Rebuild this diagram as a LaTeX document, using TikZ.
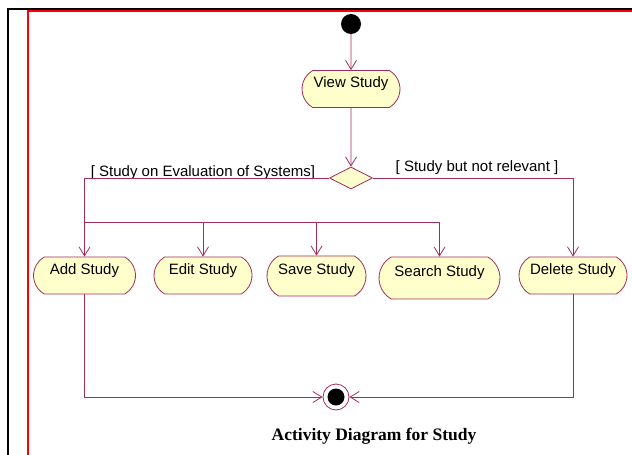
\documentclass[tikz,border=0pt]{standalone}
\usepackage{fontspec}
\setmainfont{Liberation Sans}
\newfontfamily\captionfont{Liberation Serif}
\usetikzlibrary{shapes.misc,shapes.geometric,arrows.meta}
\definecolor{umlline}{RGB}{163,45,90}
\definecolor{umlfill}{RGB}{255,255,204}
\begin{document}
\begin{tikzpicture}[x=1pt,y=-1pt,
    activity/.style={rounded rectangle,rounded rectangle arc length=120,
      draw=umlline,line width=0.8pt,fill=umlfill,font=\fontsize{15}{15}\selectfont,
      text height=11pt,text depth=14pt,minimum height=37pt,inner xsep=4pt},
    decision/.style={diamond,draw=umlline,line width=0.8pt,fill=umlfill,
      minimum width=43pt,minimum height=22pt,inner sep=0pt},
    initial/.style={circle,fill=black,minimum size=20pt,inner sep=0pt},
    final/.style={circle,draw=umlline,line width=0.8pt,fill=white,minimum size=26pt,inner sep=0pt,
      path picture={\fill[black] (path picture bounding box.center) circle (8.5pt);}},
    guard/.style={font=\fontsize{15}{15}\selectfont,inner sep=0pt},
    flow/.style={draw=umlline,line width=0.8pt,-{Straight Barb[length=9pt,width=11pt]}}]
  \useasboundingbox (0,0) rectangle (632,455);
  % page frame
  \draw[line width=2pt] (7.5,455) -- (7.5,8.5) -- (632,8.5);
  \draw[red,line width=2.5pt] (28,455) -- (28,11) -- (632,11);
  \draw
    (351,24) node[initial] (start){}
    (351,89) node[activity,minimum width=106pt] (view){View Study}
    (351,178) node[decision] (choice){}
    (84.5,275.5) node[activity,minimum width=110pt] (add){Add Study}
    (203,275.5) node[activity,minimum width=106pt] (edit){Edit Study}
    (316.5,276) node[activity,minimum width=107pt,minimum height=40pt] (save){Save Study}
    (439.5,278) node[activity,minimum width=129pt,minimum height=42pt] (search){Search Study}
    (573,275.5) node[activity,minimum width=116pt] (delete){Delete Study}
    (336,397) node[final] (end){};
  \node[guard] (yes) at (203,173) {[ Study on Evaluation of Systems]};
  \node[guard] (no) at (477,168) {[ Study but not relevant ]};
  \node[font=\captionfont\bfseries\fontsize{17.5}{18}\selectfont] (caption)
    at (374,436) {Activity Diagram for Study};
  \path (add |- 0,222) coordinate (fork);
  \begin{scope}[flow]
    \draw (start) to (view);
    \draw (view) to (choice);
    \draw (choice) -| (add);
    \draw (choice) -| (delete);
    \draw (fork) -| (edit);
    \draw (fork) -| (save);
    \draw (fork) -| (search);
    \draw (add) |- (end);
    \draw (delete) |- (end);
  \end{scope}
\end{tikzpicture}
\end{document}
